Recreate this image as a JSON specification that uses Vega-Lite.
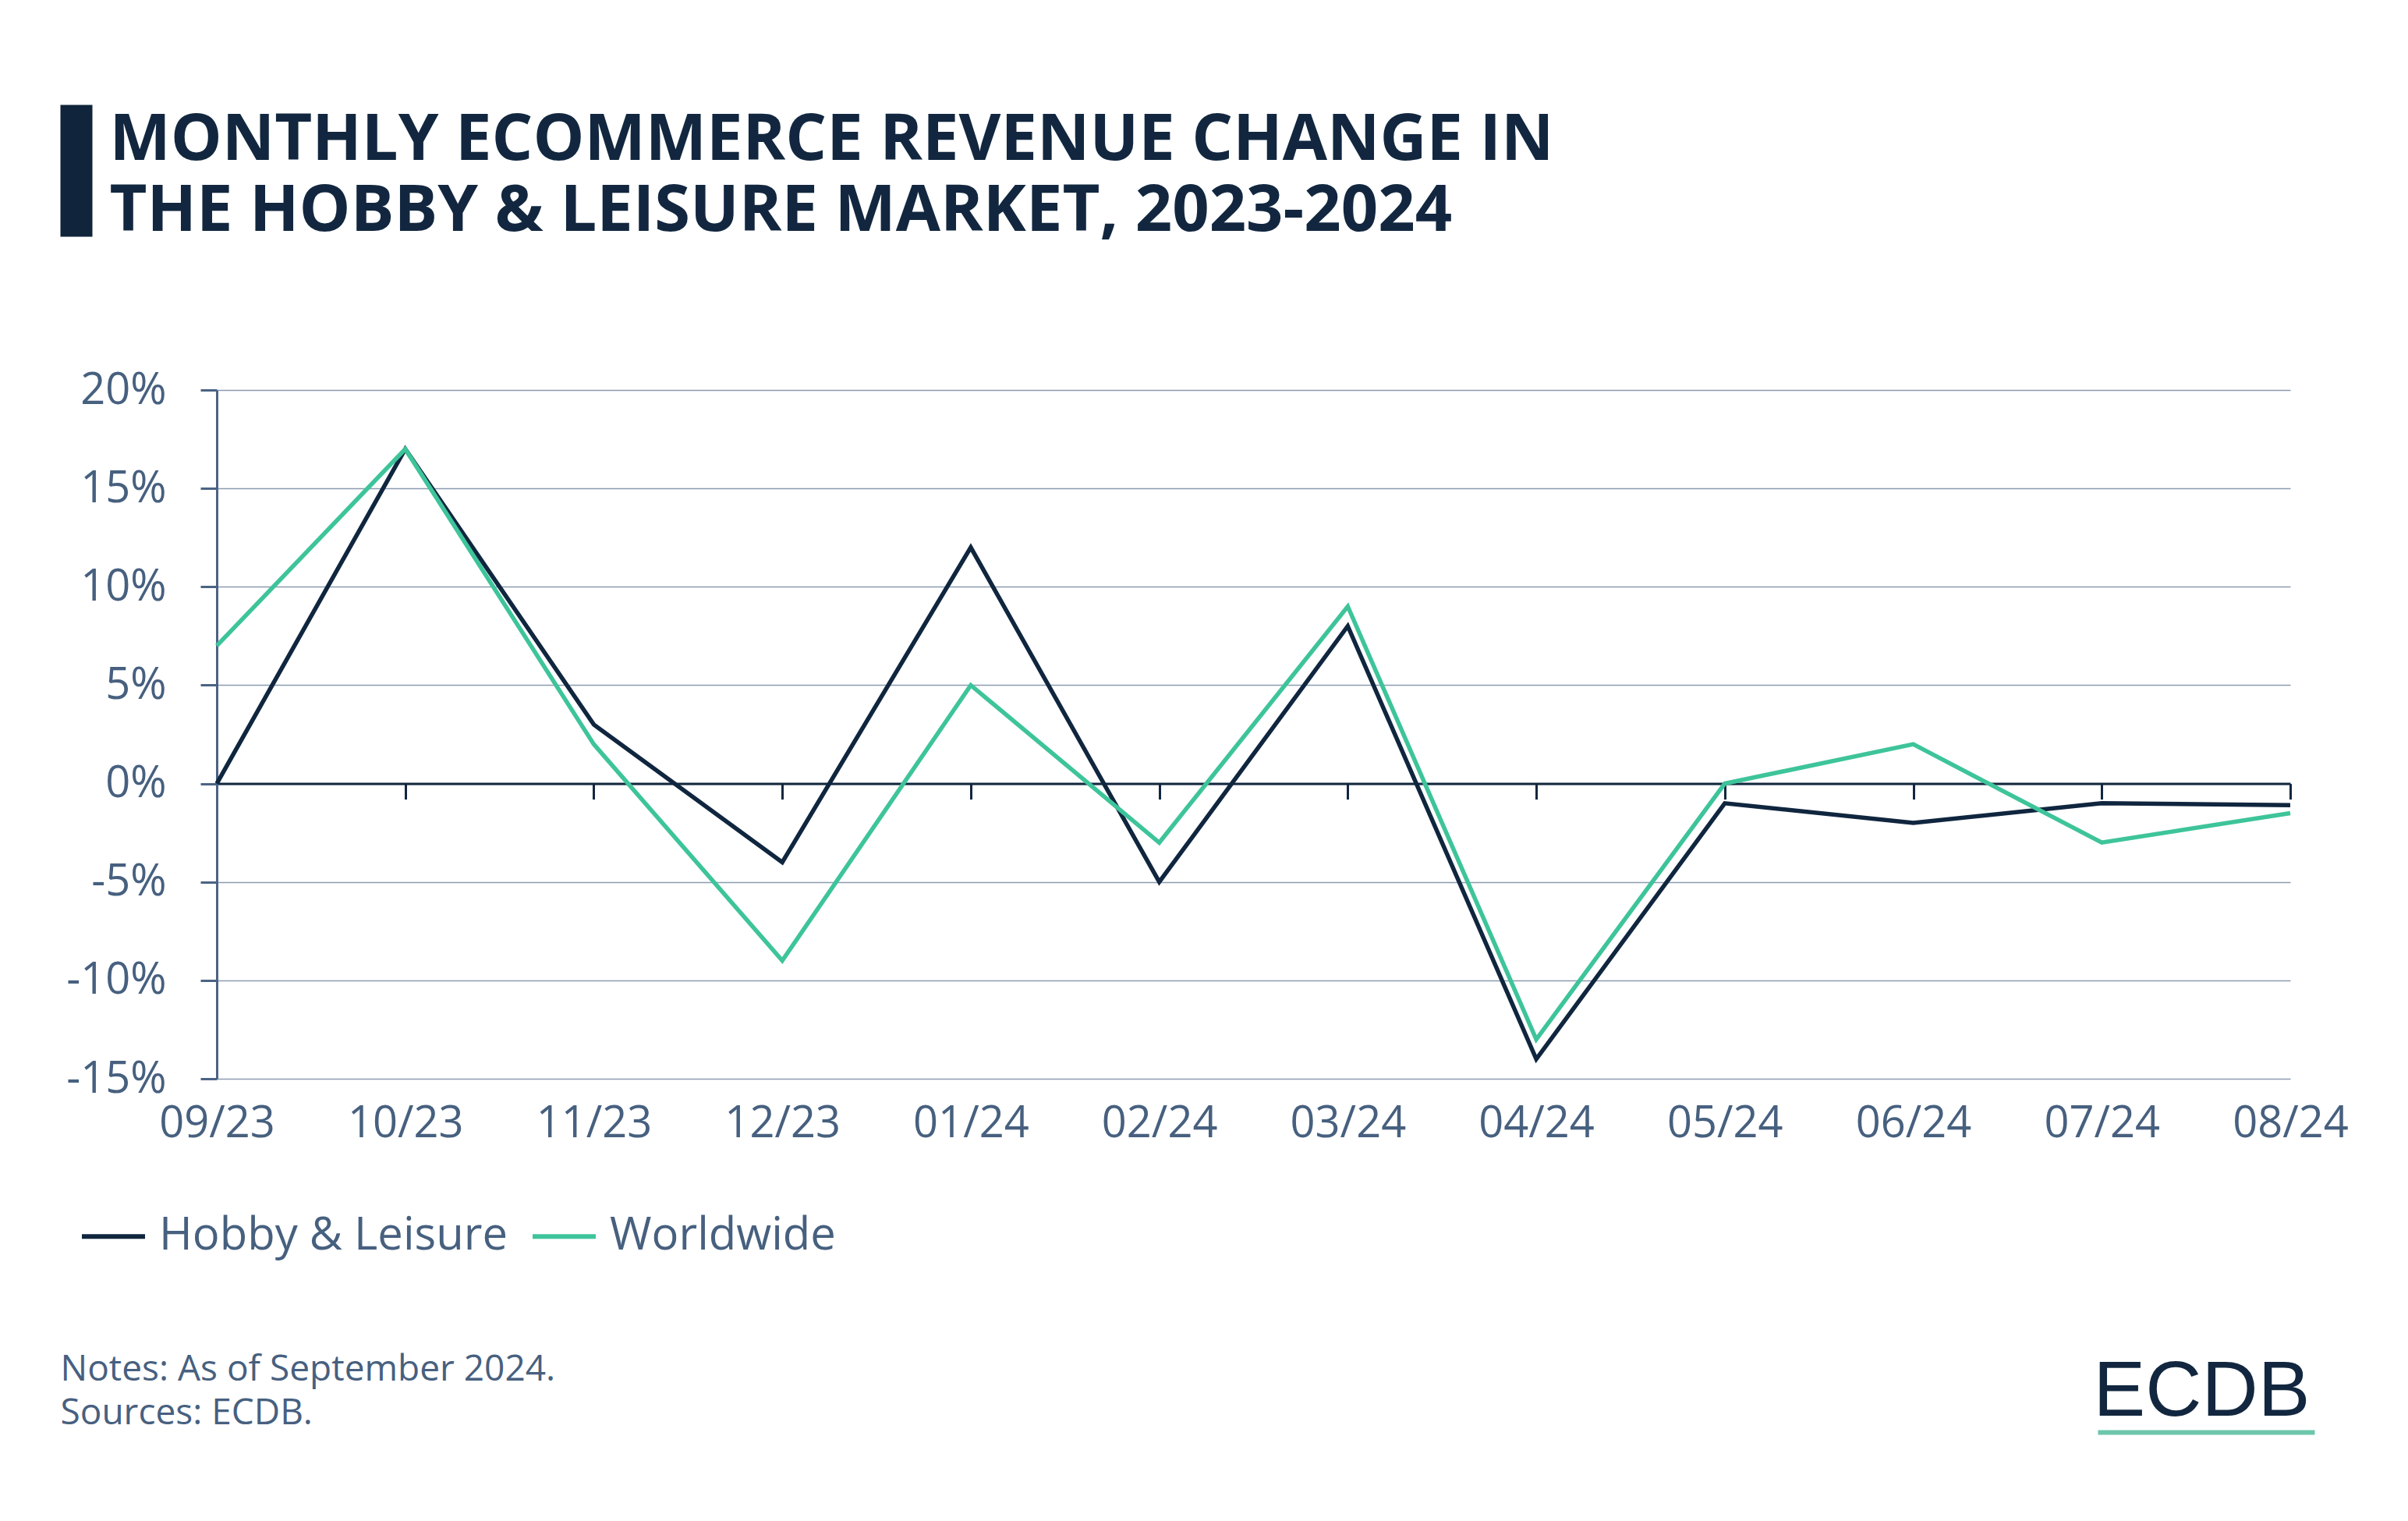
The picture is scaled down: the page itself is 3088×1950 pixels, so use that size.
{
  "$schema": "https://vega.github.io/schema/vega-lite/v6.json",
  "background": "white",
  "padding": {"left": 77, "top": 134, "right": 20, "bottom": 20},
  "bounds": "flush",
  "spacing": 197,
  "config": {"view": {"stroke": null}, "font": "Open Sans"},
  "vconcat": [
    {
      "width": 2659,
      "height": 169,
      "data": {"values": [{}]},
      "mark": {"type": "point", "opacity": 0},
      "encoding": {
        "y": {
          "datum": 0,
          "type": "quantitative",
          "scale": {"domain": [0, 1]},
          "axis": {
            "orient": "left",
            "offset": 180.5,
            "domain": true,
            "domainColor": "#10243b",
            "domainWidth": 41,
            "domainCap": "butt",
            "ticks": false,
            "labels": false,
            "grid": false,
            "title": ["MONTHLY ECOMMERCE REVENUE CHANGE IN", "THE HOBBY & LEISURE MARKET, 2023-2024"],
            "titleAngle": 0,
            "titleX": 42.5,
            "titleY": 70,
            "titleAlign": "left",
            "titleBaseline": "alphabetic",
            "titleFont": "Open Sans",
            "titleFontSize": 83,
            "titleFontWeight": "bold",
            "titleColor": "#12273f",
            "titleLineHeight": 91
          }
        }
      }
    },
    {
      "width": 2659,
      "height": 883,
      "data": {
        "values": [
          {"month": "09/23", "series": "Hobby & Leisure", "value": 0},
          {"month": "10/23", "series": "Hobby & Leisure", "value": 17},
          {"month": "11/23", "series": "Hobby & Leisure", "value": 3},
          {"month": "12/23", "series": "Hobby & Leisure", "value": -4},
          {"month": "01/24", "series": "Hobby & Leisure", "value": 12},
          {"month": "02/24", "series": "Hobby & Leisure", "value": -5},
          {"month": "03/24", "series": "Hobby & Leisure", "value": 8},
          {"month": "04/24", "series": "Hobby & Leisure", "value": -14},
          {"month": "05/24", "series": "Hobby & Leisure", "value": -1},
          {"month": "06/24", "series": "Hobby & Leisure", "value": -2},
          {"month": "07/24", "series": "Hobby & Leisure", "value": -1},
          {"month": "08/24", "series": "Hobby & Leisure", "value": -1.1},
          {"month": "09/23", "series": "Worldwide", "value": 7},
          {"month": "10/23", "series": "Worldwide", "value": 17},
          {"month": "11/23", "series": "Worldwide", "value": 2},
          {"month": "12/23", "series": "Worldwide", "value": -9},
          {"month": "01/24", "series": "Worldwide", "value": 5},
          {"month": "02/24", "series": "Worldwide", "value": -3},
          {"month": "03/24", "series": "Worldwide", "value": 9},
          {"month": "04/24", "series": "Worldwide", "value": -13},
          {"month": "05/24", "series": "Worldwide", "value": 0},
          {"month": "06/24", "series": "Worldwide", "value": 2},
          {"month": "07/24", "series": "Worldwide", "value": -3},
          {"month": "08/24", "series": "Worldwide", "value": -1.5}
        ]
      },
      "resolve": {"axis": {"x": "independent"}},
      "layer": [
        {
          "mark": {"type": "line", "strokeWidth": 5.5, "strokeJoin": "miter"},
          "encoding": {
            "x": {
              "field": "month",
              "type": "ordinal",
              "sort": null,
              "scale": {"type": "point", "padding": 0},
              "axis": {
                "orient": "bottom",
                "offset": -378.43,
                "domain": true,
                "domainColor": "#12273f",
                "domainWidth": 3,
                "ticks": true,
                "tickSize": 20,
                "tickWidth": 3,
                "tickColor": "#12273f",
                "labels": false,
                "grid": false,
                "title": null
              }
            },
            "y": {
              "field": "value",
              "type": "quantitative",
              "scale": {"domain": [-15, 20], "nice": false, "zero": false},
              "axis": {
                "values": [-15, -10, -5, 0, 5, 10, 15, 20],
                "labelExpr": "datum.value + '%'",
                "domain": true,
                "domainColor": "#4b6384",
                "domainWidth": 3,
                "ticks": true,
                "tickSize": 21,
                "tickWidth": 3,
                "tickColor": "#4b6384",
                "labelPadding": 44,
                "labelFont": "Open Sans",
                "labelFontSize": 56,
                "labelColor": "#47607f",
                "grid": true,
                "gridColor": "#8c9bb0",
                "gridWidth": 1.5,
                "title": null
              }
            },
            "color": {
              "field": "series",
              "type": "nominal",
              "scale": {"domain": ["Hobby & Leisure", "Worldwide"], "range": ["#10263f", "#3ec49a"]},
              "legend": {
                "orient": "none",
                "legendX": -176,
                "legendY": 1407.5,
                "direction": "horizontal",
                "title": null,
                "symbolType": "stroke",
                "symbolSize": 6561,
                "symbolStrokeWidth": 6,
                "labelFont": "Open Sans",
                "labelFontSize": 58,
                "labelColor": "#47607f",
                "labelOffset": 15,
                "labelLimit": 0,
                "columnPadding": 19,
                "padding": 0
              }
            }
          }
        },
        {
          "mark": {"type": "point", "opacity": 0},
          "encoding": {
            "x": {
              "field": "month",
              "type": "ordinal",
              "sort": null,
              "axis": {
                "orient": "bottom",
                "domain": false,
                "ticks": false,
                "tickSize": 0,
                "grid": false,
                "labelAngle": 0,
                "labelOverlap": false,
                "labelFont": "Open Sans",
                "labelFontSize": 56,
                "labelColor": "#47607f",
                "labelPadding": 30,
                "title": ["Notes: As of September 2024.", "Sources: ECDB."],
                "titleFont": "Open Sans",
                "titleFontSize": 46,
                "titleFontWeight": "normal",
                "titleColor": "#47607f",
                "titleAlign": "left",
                "titleBaseline": "alphabetic",
                "titleX": -201,
                "titleY": 386,
                "titleLineHeight": 56
              }
            },
            "y": {"field": "value", "type": "quantitative"}
          }
        }
      ]
    },
    {
      "width": 278,
      "height": 256,
      "data": {"values": [{}]},
      "mark": {"type": "point", "opacity": 0},
      "encoding": {
        "x": {
          "datum": 0,
          "type": "quantitative",
          "scale": {"domain": [0, 1]},
          "axis": {
            "orient": "bottom",
            "position": 2412,
            "domain": true,
            "domainColor": "#6cc7ab",
            "domainWidth": 6,
            "domainCap": "butt",
            "ticks": false,
            "labels": false,
            "grid": false,
            "title": "ECDB",
            "titleX": -6,
            "titleY": -22,
            "titleAlign": "left",
            "titleBaseline": "alphabetic",
            "titleFont": "Liberation Sans",
            "titleFontSize": 100,
            "titleFontWeight": "normal",
            "titleColor": "#12273f"
          }
        }
      }
    }
  ]
}
